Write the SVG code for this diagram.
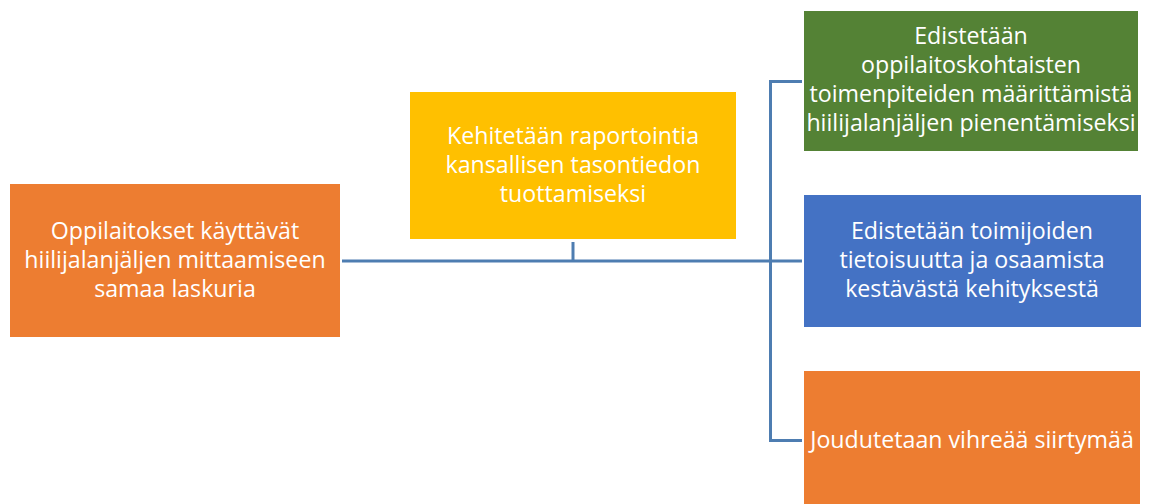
<svg xmlns="http://www.w3.org/2000/svg" width="1149" height="504" viewBox="0 0 1149 504">
<style>
.t{font-family:"Open Sans","Liberation Sans",sans-serif;font-size:23.2px;fill:#fff;text-anchor:middle}
.c{fill:none;stroke:#4E7DB1;stroke-width:3}
</style>
<rect width="1149" height="504" fill="#fff"/>
<g id="connectors">
<polyline class="c" points="342,261 802,261"/>
<polyline class="c" points="573,242 573,261"/>
<polyline class="c" points="802,81.5 770.5,81.5 770.5,440.5 802,440.5"/>
</g>
<g id="n1">
<rect x="10" y="184" width="330" height="153" fill="#ED7D31"/>
<text class="t" x="175" y="239">Oppilaitokset käyttävät</text>
<text class="t" x="175" y="268">hiilijalanjäljen mittaamiseen</text>
<text class="t" x="175" y="297">samaa laskuria</text>
</g>
<g id="n2">
<rect x="410" y="92" width="326" height="147" fill="#FFC000"/>
<text class="t" x="573" y="144">Kehitetään raportointia</text>
<text class="t" x="573" y="173">kansallisen tasontiedon</text>
<text class="t" x="573" y="202">tuottamiseksi</text>
</g>
<g id="n3">
<rect x="804" y="11" width="334" height="140" fill="#548235"/>
<text class="t" x="971" y="44">Edistetään</text>
<text class="t" x="971" y="73">oppilaitoskohtaisten</text>
<text class="t" x="971" y="102">toimenpiteiden määrittämistä</text>
<text class="t" x="971" y="131">hiilijalanjäljen pienentämiseksi</text>
</g>
<g id="n4">
<rect x="804" y="195" width="337" height="132" fill="#4472C4"/>
<text class="t" x="972" y="239">Edistetään toimijoiden</text>
<text class="t" x="972" y="268">tietoisuutta ja osaamista</text>
<text class="t" x="972" y="297">kestävästä kehityksestä</text>
</g>
<g id="n5">
<rect x="804" y="371" width="336" height="140" fill="#ED7D31"/>
<text class="t" x="972" y="448">Joudutetaan vihreää siirtymää</text>
</g>
</svg>
